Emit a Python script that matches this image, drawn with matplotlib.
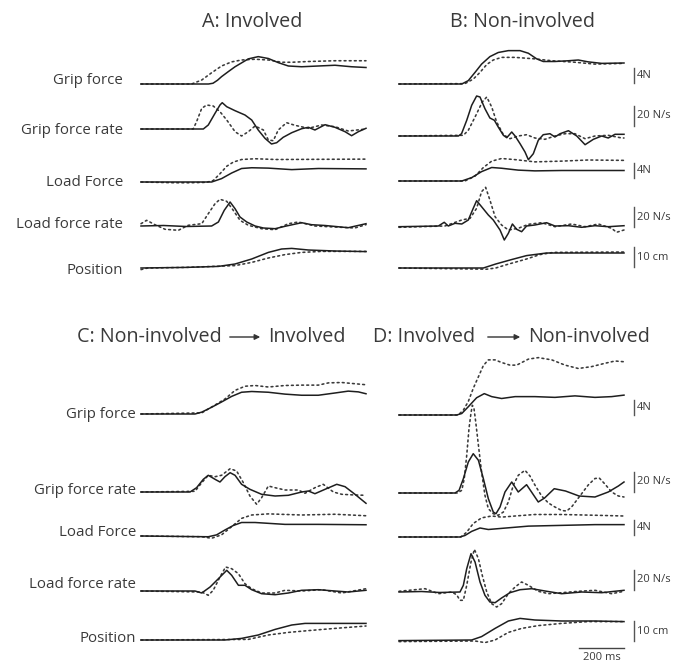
import matplotlib
matplotlib.use("Agg")
import matplotlib.pyplot as plt
from matplotlib.patches import FancyArrowPatch

plt.rcParams['font.family'] = ['Open Sans', 'DejaVu Sans']

# ---------------- data (time in ms, values in N, N/s, cm) ----------------
row_labels = ["Grip force", "Grip force rate", "Load Force", "Load force rate", "Position"]
panel_titles = ["A: Involved", "B: Non-involved"]
title_C = ["C: Non-involved", "Involved"]
title_D = ["D: Involved", "Non-involved"]
scale_labels = ["4N", "20 N/s", "4N", "20 N/s", "10 cm"]
scale_values = [4, 20, 4, 20, 10]
time_bar_ms = 200

# Panel A
A_gf_t_s = [0, 300, 320, 340, 358, 388, 418, 477, 521, 566, 610, 655, 714, 788, 862, 936, 1000]
A_gf_s = [0, 0, 0.2, 1.0, 1.96, 3.3, 4.6, 6.7, 7.3, 6.8, 5.7, 4.8, 4.6, 4.8, 5.0, 4.6, 4.4]
A_gf_t_d = [0, 225, 270, 314, 358, 403, 447, 507, 566, 625, 670, 744, 862, 1000]
A_gf_d = [0, 0, 1.07, 3.0, 4.8, 5.9, 6.4, 6.6, 6.4, 5.8, 5.8, 6.0, 6.2, 6.2]
A_gr_t_s = [0, 277, 299, 329, 351, 361, 381, 418, 462, 492, 521, 551, 580, 603, 632, 670, 714, 744, 773, 818, 862, 907, 936, 966, 1000]
A_gr_s = [0, 0, 4, 15.7, 24, 26.3, 22.3, 18.3, 14, 9, -1, -9.3, -15, -13.7, -8.3, -3.7, 0.3, 1.7, -1, 4.3, 1.7, -2.7, -6.7, -2.7, 0.7]
A_gr_t_d = [0, 232, 247, 270, 292, 321, 351, 381, 418, 447, 477, 507, 544, 566, 588, 610, 647, 684, 744, 803, 862, 921, 1000]
A_gr_d = [0, 0, 7.3, 20.7, 24, 23, 17.3, 9, -2.7, -7, -2.7, 3, -1, -11, -11.7, -1, 6.3, 3.7, 0.7, 4, 2.3, -2, 0]
A_lf_t_s = [0, 314, 358, 403, 447, 492, 566, 670, 788, 1000]
A_lf_s = [0, 0, 0.9, 2.4, 3.6, 3.8, 3.7, 3.3, 3.6, 3.5]
A_lf_t_d = [0, 150, 210, 290, 321, 351, 381, 410, 447, 507, 600, 1000]
A_lf_d = [0, -0.2, -0.2, -0.1, 0.4, 2.2, 4.2, 5.3, 6.0, 6.2, 6.0, 6.1]
A_lr_t_s = [0, 100, 200, 314, 344, 370, 396, 418, 440, 470, 507, 544, 596, 640, 714, 758, 818, 921, 1000]
A_lr_s = [0, 0.5, -0.5, 0, 4, 15.7, 24, 17.3, 9, 4, 0, -2, -2.7, -0.3, 3.3, 1.3, 0.5, -1.7, 2.3]
A_lr_t_d = [0, 25, 62, 107, 166, 210, 270, 299, 329, 351, 381, 410, 440, 477, 536, 596, 655, 699, 773, 862, 950, 1000]
A_lr_d = [2.3, 5.7, 1.3, -3.3, -4.3, 0.7, 2.3, 12.3, 22.3, 26.7, 24.7, 15.7, 5.7, 0.7, -2.7, -3.7, 2.3, 4, 0, -1, -2, 1.3]
A_po_t_s = [0, 200, 344, 418, 492, 566, 625, 670, 744, 862, 1000]
A_po_s = [0, 0.3, 0.8, 2, 4.5, 7.8, 9.5, 9.8, 9.0, 8.5, 8.2]
A_po_t_d = [0, 30, 200, 418, 492, 566, 640, 714, 803, 1000]
A_po_d = [-0.8, 0, 0.3, 1.2, 2.8, 5, 6.7, 7.8, 8.3, 8.3]

# Panel B
B_gf_t_s = [0, 279, 308, 338, 367, 404, 441, 486, 538, 575, 612, 641, 693, 753, 797, 841, 901, 1000]
B_gf_s = [0, 0, 0.9, 3.1, 5.3, 7.3, 8.4, 8.9, 8.9, 8.2, 6.7, 6.0, 6.0, 6.2, 6.4, 5.9, 5.5, 5.6]
B_gf_t_d = [0, 293, 330, 360, 390, 419, 456, 516, 604, 679, 782, 871, 1000]
B_gf_d = [0, 0.1, 1.3, 3.1, 5.2, 6.4, 7.1, 7.1, 6.7, 6.2, 5.8, 5.3, 5.5]
B_gr_t_s = [0, 264, 278, 301, 323, 345, 360, 382, 404, 424, 441, 464, 479, 501, 516, 538, 560, 575, 597, 619, 641, 671, 693, 716, 753, 790, 827, 864, 901, 930, 960, 1000]
B_gr_s = [0, 0, 2.3, 15.7, 30.7, 40, 39, 27.3, 18, 15.7, 9, 0.7, -1.7, 4, 0, -7.7, -16, -23.7, -17.7, -4.3, 1.3, 2.3, -1, 2.3, 5.3, 0, -8.7, -3.3, 0, -2, 1.7, 1.7]
B_gr_t_d = [0, 286, 308, 338, 370, 390, 412, 434, 464, 493, 530, 567, 604, 649, 693, 738, 782, 827, 871, 930, 990, 1000]
B_gr_d = [0, 0.7, 5.7, 19, 34, 39, 29, 14, 1.3, -2.7, 0, 1.3, -2, -3.3, 0, 2.3, 2.3, -2.7, 0, 0.7, -2, -2]
B_lf_t_s = [0, 279, 323, 367, 412, 456, 530, 604, 723, 1000]
B_lf_s = [0, 0, 0.9, 2.5, 3.6, 3.4, 2.9, 2.7, 2.8, 2.8]
B_lf_t_d = [0, 293, 338, 375, 412, 456, 516, 604, 723, 841, 1000]
B_lf_d = [0, 0, 1.3, 3.6, 5.3, 6.0, 5.7, 5.1, 5.3, 5.6, 5.5]
B_lr_t_s = [0, 175, 201, 219, 249, 279, 308, 330, 345, 367, 397, 419, 449, 468, 486, 504, 523, 545, 567, 604, 656, 693, 753, 812, 871, 930, 1000]
B_lr_s = [-0.7, 0, 3.7, 0, 2.7, 2, 6, 17.7, 25.3, 19.3, 11, 6, -4, -14, -7.3, 2, -3.3, -5.7, 0, 1, 3.3, 0, 0.3, -1.3, 0.3, -0.7, 0.3]
B_lr_t_d = [0, 204, 279, 316, 345, 367, 385, 404, 427, 456, 486, 530, 575, 634, 693, 767, 827, 886, 945, 967, 1000]
B_lr_d = [-1.3, 0, 6, 7.7, 17.7, 34.3, 38.7, 26, 9.3, 1, -4, -2.3, 1.7, 3.3, -0.7, 2, -0.7, 2, -2.3, -6.3, -4]
B_po_t_s = [0, 375, 430, 500, 567, 656, 800, 1000]
B_po_s = [0, 0, 2, 4.2, 6.2, 7.5, 7.5, 7.5]
B_po_t_d = [0, 390, 430, 479, 567, 626, 686, 1000]
B_po_d = [0, -0.6, 0, 1.7, 4.5, 6.7, 7.8, 8.0]

# Panel C
C_gf_t_s = [0, 240, 270, 314, 358, 403, 447, 492, 566, 640, 714, 788, 862, 921, 966, 1000]
C_gf_s = [0, 0, 0.5, 1.8, 3.2, 4.7, 5.8, 6.0, 5.8, 5.3, 5.0, 5.0, 5.6, 6.1, 5.9, 5.4]
C_gf_t_d = [0, 270, 329, 373, 418, 462, 507, 566, 640, 714, 788, 833, 892, 1000]
C_gf_d = [0, 0.3, 2.4, 4.0, 6.3, 7.4, 7.6, 7.2, 7.6, 7.7, 7.7, 8.3, 8.4, 7.8]
C_gr_t_s = [0, 218, 247, 277, 299, 329, 351, 373, 396, 418, 447, 484, 536, 596, 655, 714, 744, 773, 818, 870, 907, 951, 1000]
C_gr_s = [0, 0, 4.3, 12.7, 16.7, 12.7, 10, 15.3, 19.3, 16.7, 7.7, 2.7, -2.3, -4, -3.3, 0, 1, -1.7, 2.7, 7.7, 5.3, -2.3, -11.3]
C_gr_t_d = [0, 240, 270, 299, 329, 358, 396, 425, 455, 484, 514, 536, 566, 596, 640, 699, 729, 773, 810, 855, 892, 951, 1000]
C_gr_d = [0, 0.7, 9.3, 16.7, 15.3, 16.7, 23.3, 21, 9.3, -4, -12.3, -5.7, 6, 4.3, 2, 2, -1.3, 4.3, 7.7, 0, -2.3, -3, -3.3]
C_lf_t_s = [0, 299, 336, 373, 410, 447, 507, 640, 788, 1000]
C_lf_s = [0, -0.2, 0.3, 1.6, 2.8, 3.6, 3.6, 3.1, 3.1, 3.0]
C_lf_t_d = [0, 270, 314, 358, 403, 447, 492, 566, 714, 862, 1000]
C_lf_d = [0, -0.2, -0.6, 0.3, 2.5, 4.7, 5.6, 5.9, 5.6, 5.8, 5.4]
C_lr_t_s = [0, 240, 270, 307, 344, 381, 403, 433, 462, 492, 536, 596, 655, 714, 788, 862, 921, 1000]
C_lr_s = [0, 0, -2, 4, 12.3, 20.7, 15.7, 5.7, 5.7, 1.3, -2.7, -3.7, -2, 0.7, 1.3, 0, -1, 0.7]
C_lr_t_d = [0, 270, 299, 321, 351, 376, 403, 433, 462, 492, 536, 596, 640, 714, 803, 892, 1000]
C_lr_d = [0, -1, -4.3, 0.7, 14, 24, 22.3, 17.3, 7.3, 2.3, -2, -2, 0.7, 0, 1.3, -2, 2.3]
C_po_t_s = [0, 373, 447, 521, 596, 670, 729, 862, 1000]
C_po_s = [0, 0, 0.8, 2.5, 5.3, 7.5, 8.3, 8.3, 8.3]
C_po_t_d = [0, 477, 566, 655, 744, 862, 1000]
C_po_d = [0, 0.3, 2.5, 3.8, 4.7, 5.8, 7.0]

# Panel D
D_gf_t_s = [0, 256, 279, 308, 345, 379, 412, 456, 516, 604, 693, 782, 871, 945, 1000]
D_gf_s = [0, 0, 0.4, 2.2, 4.6, 5.7, 4.9, 4.4, 4.9, 4.9, 4.7, 5.1, 4.7, 4.9, 5.3]
D_gf_t_d = [0, 263, 286, 308, 330, 353, 375, 397, 427, 456, 493, 523, 575, 619, 679, 738, 797, 856, 916, 960, 1000]
D_gf_d = [0, 0, 1.3, 3.6, 7.1, 10.2, 13.2, 14.7, 14.7, 14.0, 13.3, 13.3, 14.9, 15.3, 14.7, 13.3, 12.4, 12.9, 13.8, 14.4, 14.2]
D_gr_t_s = [0, 249, 267, 286, 308, 330, 353, 375, 397, 419, 431, 449, 471, 501, 530, 567, 586, 619, 647, 690, 740, 800, 871, 930, 975, 1000]
D_gr_s = [0, 0, 2.7, 14.3, 31, 39.3, 32.7, 14.3, -5.7, -19, -20.7, -14, 1, 11, 1, 8.3, 2, -9, -5, 4.3, 2, -3, -4, 1, 7, 11]
D_gr_t_d = [0, 260, 279, 290, 301, 311, 320, 326, 333, 341, 353, 367, 382, 397, 419, 441, 464, 486, 508, 530, 560, 582, 604, 634, 664, 693, 723, 745, 767, 804, 841, 871, 890, 915, 945, 975, 1000]
D_gr_d = [0, 0, 2.7, 14.3, 37.7, 64.3, 80, 87.7, 85, 71, 47.7, 21, -2.3, -15.7, -20.7, -22.3, -19, -9, 7.7, 17.7, 22.7, 17, 8, -3, -10, -14, -17.5, -18, -14, -3, 8, 14.5, 15, 9, 1, -3, -4]
D_lf_t_s = [0, 270, 293, 323, 360, 397, 456, 575, 723, 871, 1000]
D_lf_s = [0, 0, 0.4, 1.5, 2.4, 2.0, 2.3, 2.9, 3.1, 3.3, 3.3]
D_lf_t_d = [0, 275, 301, 330, 367, 412, 456, 516, 604, 723, 871, 1000]
D_lf_d = [0, 0, 1.3, 3.6, 5.1, 5.6, 5.3, 5.6, 6.0, 6.0, 5.8, 5.6]
D_lr_t_s = [0, 100, 180, 271, 286, 301, 320, 338, 360, 382, 404, 427, 456, 493, 538, 590, 649, 723, 812, 901, 1000]
D_lr_s = [0, 0.5, -0.5, 0, 6.7, 23.3, 38.3, 30, 10, -3.3, -10, -10.7, -6, -0.7, 2.3, 3.3, 1, -1.7, 0, -0.7, 1.7]
D_lr_t_d = [0, 116, 175, 234, 256, 271, 286, 301, 320, 335, 353, 370, 390, 412, 434, 456, 486, 516, 545, 575, 619, 664, 723, 797, 871, 945, 1000]
D_lr_d = [0.7, 3.3, -1.7, 0, -2.7, -8.3, -8.3, 6.7, 30, 42.7, 33.3, 16.7, 0, -11.7, -15, -11.7, -1.7, 5, 10, 6.7, 0.7, -1.7, -0.7, 0.7, 1.7, -1.7, 0.7]
D_po_t_s = [0, 323, 367, 427, 486, 538, 604, 723, 871, 1000]
D_po_s = [-0.3, 0, 1.7, 5.8, 9.5, 10.8, 10, 9.5, 9.5, 9.2]
D_po_t_d = [0, 338, 382, 427, 486, 545, 619, 723, 841, 1000]
D_po_d = [-0.8, -0.5, -1.3, 0, 3.8, 5.8, 7.2, 8.3, 9.2, 9.2]

# ---------------- layout ----------------
W, H = 677, 665
fig = plt.figure(figsize=(W / 100, H / 100), dpi=100)
fig.patch.set_facecolor('white')

TXT = '#3a3a3a'
LINE = '#1e1e1e'
DOT = '#3a3a3a'

# pixels per unit for each row type (force N, rate N/s, force N, rate N/s, position cm)
px_per_unit = [3.75, 1.0, 3.75, 1.0, 2.0]
trace_w = 225.0

panels = {
    'A': dict(x0=141, base=[84, 129, 182, 226, 268]),
    'B': dict(x0=399, base=[84, 136, 181, 226, 268]),
    'C': dict(x0=141, base=[414, 492, 536, 591, 640]),
    'D': dict(x0=399, base=[415, 493, 537, 592, 640]),
}
series = {
    'A': [(A_gf_t_s, A_gf_s, A_gf_t_d, A_gf_d), (A_gr_t_s, A_gr_s, A_gr_t_d, A_gr_d),
          (A_lf_t_s, A_lf_s, A_lf_t_d, A_lf_d), (A_lr_t_s, A_lr_s, A_lr_t_d, A_lr_d),
          (A_po_t_s, A_po_s, A_po_t_d, A_po_d)],
    'B': [(B_gf_t_s, B_gf_s, B_gf_t_d, B_gf_d), (B_gr_t_s, B_gr_s, B_gr_t_d, B_gr_d),
          (B_lf_t_s, B_lf_s, B_lf_t_d, B_lf_d), (B_lr_t_s, B_lr_s, B_lr_t_d, B_lr_d),
          (B_po_t_s, B_po_s, B_po_t_d, B_po_d)],
    'C': [(C_gf_t_s, C_gf_s, C_gf_t_d, C_gf_d), (C_gr_t_s, C_gr_s, C_gr_t_d, C_gr_d),
          (C_lf_t_s, C_lf_s, C_lf_t_d, C_lf_d), (C_lr_t_s, C_lr_s, C_lr_t_d, C_lr_d),
          (C_po_t_s, C_po_s, C_po_t_d, C_po_d)],
    'D': [(D_gf_t_s, D_gf_s, D_gf_t_d, D_gf_d), (D_gr_t_s, D_gr_s, D_gr_t_d, D_gr_d),
          (D_lf_t_s, D_lf_s, D_lf_t_d, D_lf_d), (D_lr_t_s, D_lr_s, D_lr_t_d, D_lr_d),
          (D_po_t_s, D_po_s, D_po_t_d, D_po_d)],
}

BELOW, ABOVE = 40.0, 90.0
axes = {}
for key, p in panels.items():
    axes[key] = []
    for i in range(5):
        s = px_per_unit[i]
        base = p['base'][i]
        ax = fig.add_axes([p['x0'] / W, (H - base - BELOW) / H, trace_w / W, (BELOW + ABOVE) / H])
        ax.set_xlim(0, 1000)
        ax.set_ylim(-BELOW / s, ABOVE / s)
        ax.axis('off')
        ts, vs, td, vd = series[key][i]
        ax.plot(td, vd, color=DOT, lw=1.15, ls=(0, (1.2, 2.0)), clip_on=False,
                solid_capstyle='round', dash_capstyle='round')
        ax.plot(ts, vs, color=LINE, lw=1.1, clip_on=False, solid_joinstyle='round')
        axes[key].append(ax)

# scale bars (B for top half, D for bottom half), offsets in px relative to baseline
bar_bottom_off = {'B': [1, 10, 3, -1, 1], 'D': [0, 1, 2, 2, -1]}
for key in ['B', 'D']:
    for i in range(5):
        ax = axes[key][i]
        s = px_per_unit[i]
        y0 = bar_bottom_off[key][i] / s
        xb = 1043
        ax.plot([xb, xb], [y0, y0 + scale_values[i]], color='#555555', lw=1.0, clip_on=False)
        ax.text(xb + 14, y0 + scale_values[i] / 2, scale_labels[i], fontsize=8, color=TXT,
                va='center', ha='left', clip_on=False)

# time scale bar under panel D
axp = axes['D'][4]
s = px_per_unit[4]
axp.plot([1000 - time_bar_ms, 1000], [-8 / s, -8 / s], color='#444444', lw=1.0, clip_on=False)
axp.text(1000 - time_bar_ms / 2, -12 / s, f"{time_bar_ms} ms", fontsize=8, color=TXT,
         ha='center', va='top', clip_on=False)

# row labels for A and C
def fx(x):
    return x / W

def fy(y):
    return 1 - y / H

label_y_A = [80, 130, 182, 225, 270]
label_y_C = [414, 491, 533, 584, 639]
for i, lab in enumerate(row_labels):
    fig.text(fx(123), fy(label_y_A[i]), lab, fontsize=10.8, color=TXT, ha='right', va='center')
    fig.text(fx(136), fy(label_y_C[i]), lab, fontsize=10.8, color=TXT, ha='right', va='center')

# panel titles
TS = 14.2
fig.text(fx(252), fy(22), panel_titles[0], fontsize=TS, color=TXT, ha='center', va='center')
fig.text(fx(523), fy(22), panel_titles[1], fontsize=TS, color=TXT, ha='center', va='center')

fig.text(fx(222), fy(337), title_C[0], fontsize=TS, color=TXT, ha='right', va='center')
fig.text(fx(268), fy(337), title_C[1], fontsize=TS, color=TXT, ha='left', va='center')
fig.add_artist(FancyArrowPatch((fx(227), fy(337)), (fx(263), fy(337)), transform=fig.transFigure,
                               arrowstyle='-|>', mutation_scale=8, lw=1.0, color='#333333'))

fig.text(fx(475), fy(337), title_D[0], fontsize=TS, color=TXT, ha='right', va='center')
fig.text(fx(528), fy(337), title_D[1], fontsize=TS, color=TXT, ha='left', va='center')
fig.add_artist(FancyArrowPatch((fx(485), fy(337)), (fx(523), fy(337)), transform=fig.transFigure,
                               arrowstyle='-|>', mutation_scale=8, lw=1.0, color='#333333'))

fig.savefig('out.png', dpi=100, facecolor='white')
